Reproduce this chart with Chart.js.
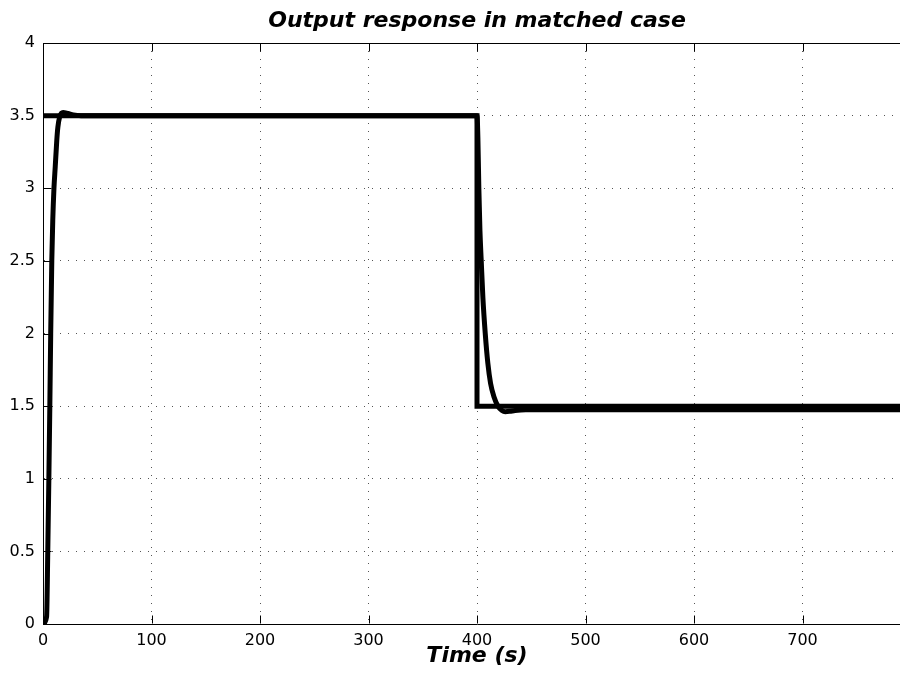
<!DOCTYPE html>
<html><head><meta charset="utf-8">
<script src="https://cdn.jsdelivr.net/npm/chart.js@4/dist/chart.umd.min.js"></script>
<style>
html,body{margin:0;padding:0;background:#fff;overflow:hidden;}
#wrap{width:900px;height:673px;overflow:hidden;position:relative;background:#fff;}
canvas{display:block;}
</style></head>
<body><div id="wrap"><canvas id="c" width="960" height="673"></canvas></div>
<script>
// ---- data ----
const refTime  = [0, 400, 400, 800];
const refValue = [3.5, 3.5, 1.5, 1.5];

const respTime  = [0, 3.3, 4.4, 5.4, 6.3, 7.1, 8.1, 9.0, 10.1, 11.3, 12.7, 13.7, 15.3, 18.5, 23, 28, 35,
                   400, 400.8, 401.7, 402.7, 403.9, 405.4, 407.6, 410, 412.5, 415.6, 419.6, 423, 426, 430, 435, 445, 800];
const respValue = [0, 0.05, 0.5, 1.0, 1.5, 2.0, 2.5, 2.78, 3.0, 3.15, 3.33, 3.42, 3.49, 3.522, 3.515, 3.505, 3.5,
                   3.5, 3.35, 3.0, 2.71, 2.5, 2.25, 2.0, 1.795, 1.657, 1.565, 1.496, 1.47, 1.462, 1.464, 1.47, 1.475, 1.475];

const xTickValues = [0, 100, 200, 300, 400, 500, 600, 700];
const yTickValues = [0, 0.5, 1, 1.5, 2, 2.5, 3, 3.5, 4];

const titleText  = 'Output response in matched case';
const xLabelText = 'Time (s)';
const xMin = 0, xMax = 800, yMin = 0, yMax = 4;

// ---- chart ----
const FONT = "'DejaVu Sans', 'Liberation Sans', Arial, sans-serif";
const toPts = (xs, ys) => xs.map((t, i) => ({x: t, y: ys[i]}));

const framePlugin = {
  id: 'frame',
  afterDraw(chart) {
    const {ctx, chartArea: ca, scales: {x, y}} = chart;
    const L = Math.round(ca.left) + 0.5, R = Math.round(ca.right) - 0.5;
    const T = Math.round(ca.top) + 0.5, B = Math.round(ca.bottom) - 0.5;
    const tl = 8;
    ctx.save();
    ctx.strokeStyle = '#000';
    ctx.lineWidth = 1;
    ctx.beginPath();
    ctx.moveTo(L - 0.5, T); ctx.lineTo(R + 0.5, T);
    ctx.moveTo(R, T); ctx.lineTo(R, B);
    xTickValues.forEach(v => {
      const px = Math.round(x.getPixelForValue(v)) + 0.5;
      ctx.moveTo(px, B); ctx.lineTo(px, B - tl);
      ctx.moveTo(px, T); ctx.lineTo(px, T + tl);
    });
    yTickValues.forEach(v => {
      const py = Math.round(y.getPixelForValue(v)) + 0.5;
      ctx.moveTo(L, py); ctx.lineTo(L + tl, py);
      ctx.moveTo(R, py); ctx.lineTo(R - tl, py);
    });
    ctx.stroke();
    ctx.restore();
  }
};

new Chart(document.getElementById('c'), {
  type: 'line',
  data: {
    datasets: [
      {
        data: toPts(refTime, refValue),
        borderColor: '#000', borderWidth: 5, pointRadius: 0, tension: 0,
        fill: false, clip: 0
      },
      {
        data: toPts(respTime, respValue),
        borderColor: '#000', borderWidth: 5, pointRadius: 0,
        cubicInterpolationMode: 'monotone',
        fill: false, clip: 0
      }
    ]
  },
  options: {
    responsive: false,
    animation: false,
    events: [],
    devicePixelRatio: 1,
    layout: {padding: {left: 0, right: 49, top: 0, bottom: 0}},
    plugins: {
      legend: {display: false},
      tooltip: {enabled: false},
      title: {
        display: true, text: titleText, fullSize: false,
        color: '#000',
        font: {family: FONT, size: 22, weight: 'bold', style: 'italic', lineHeight: 1.2},
        padding: {top: 8, bottom: 8.6}
      }
    },
    scales: {
      x: {
        type: 'linear', min: xMin, max: xMax,
        afterBuildTicks: s => { s.ticks = xTickValues.map(v => ({value: v})); },
        afterFit: s => { s.height = 49; },
        ticks: {
          color: '#000', padding: 7, maxRotation: 0, autoSkip: false,
          font: {family: FONT, size: 16},
          callback: v => String(v)
        },
        grid: {display: true, drawTicks: false, color: '#555', lineWidth: 1},
        border: {display: true, color: '#000', width: 1, dash: [1, 7]},
        title: {
          display: true, text: xLabelText, color: '#000',
          font: {family: FONT, size: 22, weight: 'bold', style: 'italic', lineHeight: 1.2},
          padding: {top: 0, bottom: 4}
        }
      },
      y: {
        type: 'linear', min: yMin, max: yMax,
        afterBuildTicks: s => { s.ticks = yTickValues.map(v => ({value: v})); },
        afterFit: s => { s.width = 43; },
        ticks: {
          color: '#000', padding: 8,
          font: {family: FONT, size: 16},
          callback: v => String(v)
        },
        grid: {display: true, drawTicks: false, color: '#555', lineWidth: 1},
        border: {display: true, color: '#000', width: 1, dash: [1, 7]}
      }
    }
  },
  plugins: [framePlugin]
});
</script>
</body></html>
